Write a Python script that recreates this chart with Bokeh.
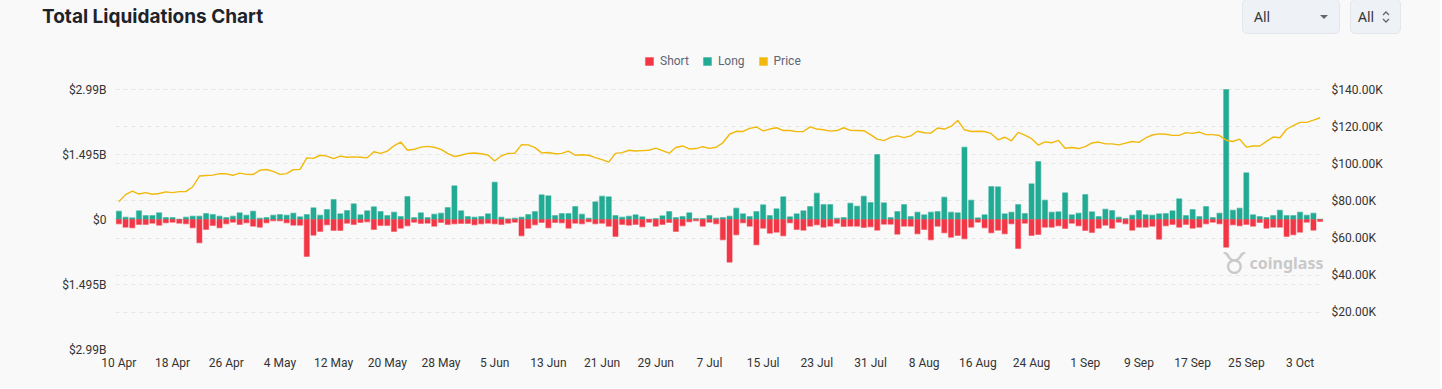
from bokeh.plotting import figure
from bokeh.models import (Range1d, LinearAxis, FixedTicker, Grid, Label, Legend,
                          LegendItem, ColumnDataSource, Div)
from bokeh.layouts import column
from bokeh.embed import file_html
from bokeh.resources import INLINE
import pandas as pd

# ---------------- data ----------------
title_text = "Total Liquidations Chart"
dates = pd.date_range("2025-04-10", "2025-10-06", freq="D")
day_labels = [f"{d.day} {d.strftime('%b')}" for d in dates]

# long liquidations, $ millions per day
long_m = [192, 54, 38, 199, 92, 92, 153, 46, 46, 8,
          54, 77, 77, 138, 115, 77, 46, 77, 153, 100,
          192, 31, 46, 100, 115, 100, 146, 61, 115, 268,
          100, 230, 460, 130, 207, 360, 107, 199, 291, 184,
          92, 169, 69, 529, 46, 153, 46, 123, 146, 276,
          774, 199, 69, 54, 69, 130, 859, 54, 15, 31,
          54, 115, 184, 567, 544, 92, 138, 138, 299, 123,
          31, 406, 537, 521, 92, 54, 77, 107, 61, 8,
          23, 84, 184, 46, 69, 153, 23, 23, 92, 31,
          46, 77, 261, 130, 69, 184, 337, 92, 245, 521,
          61, 130, 199, 299, 606, 345, 345, 31, 46, 376,
          307, 537, 391, 1495, 383, 46, 184, 345, 69, 169,
          107, 169, 184, 514, 169, 153, 1664, 445, 38, 107,
          759, 751, 130, 169, 345, 138, 820, 1334, 445, 169,
          176, 613, 107, 146, 575, 176, 69, 238, 207, 54,
          23, 100, 207, 107, 100, 130, 138, 199, 475, 92,
          230, 69, 299, 46, 146, 2990, 215, 261, 1073, 107,
          69, 46, 92, 215, 92, 92, 169, 100, 146, 8]

# short liquidations, $ millions per day
short_m = [100, 176, 192, 115, 115, 84, 130, 77, 61, 84,
           100, 192, 537, 230, 138, 192, 100, 61, 115, 77,
           153, 176, 77, 31, 31, 77, 130, 130, 851, 360,
           276, 123, 253, 253, 84, 115, 69, 54, 230, 138,
           138, 276, 199, 146, 61, 92, 84, 153, 69, 115,
           100, 92, 92, 123, 100, 84, 100, 115, 84, 61,
           376, 199, 123, 69, 192, 69, 77, 199, 84, 100,
           54, 100, 84, 153, 391, 115, 130, 115, 169, 61,
           153, 115, 69, 276, 146, 54, 31, 153, 61, 100,
           468, 981, 353, 77, 153, 583, 199, 314, 291, 376,
           77, 230, 245, 153, 123, 176, 153, 84, 161, 153,
           153, 184, 169, 245, 107, 107, 337, 153, 153, 330,
           230, 468, 153, 307, 406, 368, 445, 176, 61, 192,
           307, 245, 330, 100, 667, 84, 368, 345, 176, 176,
           146, 207, 84, 146, 253, 299, 199, 130, 199, 61,
           100, 245, 176, 176, 153, 452, 146, 115, 176, 115,
           199, 176, 100, 61, 100, 636, 123, 146, 115, 153,
           69, 199, 176, 176, 391, 353, 291, 61, 245, 46]

# BTC price, $ thousands
price_k = [79.6, 83.4, 85.3, 83.7, 84.5, 83.6, 84.0, 84.9, 84.5, 85.0,
           85.1, 87.5, 93.4, 93.7, 93.9, 94.7, 94.6, 93.8, 95.0, 94.3, 94.2,
           96.5, 96.9, 95.9, 94.3, 94.7, 96.8, 97.0, 103.2, 102.9, 104.6,
           104.1, 102.8, 104.1, 103.5, 103.7, 103.5, 103.2, 106.5, 105.6, 106.8,
           109.7, 111.7, 107.3, 107.8, 109.0, 109.4, 108.9, 107.8, 105.6, 103.9, 104.6,
           105.6, 105.8, 105.4, 104.7, 101.5, 104.3, 105.6, 105.7, 110.3, 110.2,
           108.7, 105.9, 106.1, 105.4, 105.6, 106.8, 104.6, 104.9, 104.6, 103.3,
           102.2, 100.9, 105.6, 106.0, 107.3, 106.9, 107.1, 107.3, 108.4, 107.1,
           105.7, 108.8, 109.6, 108.0, 108.2, 109.2, 108.3, 108.9, 111.3, 115.9,
           117.5, 117.4, 119.1, 119.8, 117.7, 118.7, 119.4, 117.9, 117.9, 117.3,
           117.4, 119.9, 118.7, 118.3, 117.6, 117.9, 119.4, 118.0, 117.9, 117.8, 115.7,
           113.3, 112.5, 114.2, 115.0, 114.1, 115.0, 117.5, 116.7, 116.5, 119.3,
           118.7, 120.1, 123.3, 118.3, 117.4, 117.5, 117.4, 116.2, 112.9, 114.3,
           112.4, 116.9, 115.4, 113.5, 110.1, 111.8, 111.3, 112.6, 108.4, 108.8, 108.2,
           109.2, 111.2, 111.7, 110.7, 110.7, 110.2, 111.1, 112.0, 111.5, 113.9,
           115.5, 116.1, 115.9, 115.3, 115.3, 116.8, 116.4, 117.1, 115.7, 115.7,
           115.2, 112.7, 112.0, 113.3, 109.0, 109.6, 109.6, 112.1, 114.4, 114.0,
           118.6, 120.6, 122.3, 122.3, 123.5, 124.8]

left_ticks = [-2990000000, -1495000000, 0, 1495000000, 2990000000]
left_tick_labels = ["$2.99B", "$1.495B", "$0", "$1.495B", "$2.99B"]
right_ticks = [20000, 40000, 60000, 80000, 100000, 120000, 140000]
right_tick_labels = ["$20.00K", "$40.00K", "$60.00K", "$80.00K",
                     "$100.00K", "$120.00K", "$140.00K"]
x_ticks = list(range(0, len(dates), 8))

# ---------------- style / geometry ----------------
BG = "#f9f9f9"
GREEN = "#22ab94"
RED = "#f23645"
YELLOW = "#f0b90b"
GRID = "#e6e6e6"
TXT = "#333333"

W = 1440
HEAD_H = 40          # header strip (title + selectors)
FIG_H = 348
DATA_TOP_PX = 49     # pixel row (inside figure) of the +2.99B / 140K level
FRAME_H = 309        # frame spans figure rows 0..309
L_MAX = 2990000000
R_MAX = 140000
span_px = FRAME_H - DATA_TOP_PX
left_top = L_MAX + DATA_TOP_PX * (2 * L_MAX) / span_px
right_top = R_MAX + DATA_TOP_PX * R_MAX / span_px

n = len(dates)
src = ColumnDataSource(dict(
    x=list(range(n)),
    long=[v * 1e6 for v in long_m],
    short=[-v * 1e6 for v in short_m],
    price=[v * 1000 for v in price_k],
))

p = figure(width=W, height=FIG_H,
           x_range=Range1d(-0.5, n - 0.5),
           y_range=Range1d(-L_MAX, left_top),
           output_backend="svg", toolbar_location=None,
           min_border_left=115, min_border_right=W - 1323,
           min_border_top=0, min_border_bottom=FIG_H - FRAME_H,
           background_fill_color=BG, border_fill_color=BG,
           outline_line_color=None)
p.extra_y_ranges = {"price": Range1d(0, right_top)}

# grids
p.xgrid.visible = False
p.ygrid.ticker = FixedTicker(ticks=left_ticks)
p.ygrid.grid_line_color = GRID
p.ygrid.grid_line_dash = "4 4"
g2 = Grid(dimension=1, ticker=FixedTicker(ticks=[0] + right_ticks),
          y_range_name="price", grid_line_color=GRID, grid_line_dash="4 4")
p.add_layout(g2)

# bars and price line
r_long = p.vbar(x="x", top="long", bottom=0, width=0.76, source=src,
                fill_color=GREEN, line_color=GREEN, line_alpha=0.4, line_width=1.2)
r_short = p.vbar(x="x", top=0, bottom="short", width=0.76, source=src,
                 fill_color=RED, line_color=RED, line_alpha=0.4, line_width=1.2)
p.line(x="x", y="price", source=src, y_range_name="price",
       line_color=YELLOW, line_width=1.4)
# legend proxy for the price series (a zero-height bar outside the visible range)
proxy = ColumnDataSource(dict(x=[-10], top=[0]))
r_price_leg = p.vbar(x="x", top="top", bottom=0, width=0.7, source=proxy,
                     fill_color=YELLOW, line_color=YELLOW, line_alpha=0.4)

# axes
def style_axis(ax, standoff):
    ax.axis_line_color = None
    ax.major_tick_line_color = None
    ax.minor_tick_line_color = None
    ax.major_tick_in = 0
    ax.major_tick_out = 0
    ax.major_label_standoff = standoff
    ax.major_label_text_font = "Roboto"
    ax.major_label_text_font_size = "12px"
    ax.major_label_text_color = TXT

p.yaxis.ticker = FixedTicker(ticks=left_ticks)
p.yaxis.major_label_overrides = dict(zip(left_ticks, left_tick_labels))
style_axis(p.yaxis[0], 9)

ax_r = LinearAxis(y_range_name="price", ticker=FixedTicker(ticks=right_ticks),
                  major_label_overrides=dict(zip(right_ticks, right_tick_labels)))
style_axis(ax_r, 8)
p.add_layout(ax_r, "right")

p.xaxis.ticker = FixedTicker(ticks=x_ticks)
p.xaxis.major_label_overrides = {i: day_labels[i] for i in x_ticks}
style_axis(p.xaxis[0], 6)

# legend (inside the frame, top area)
legend = Legend(items=[LegendItem(label="Short", renderers=[r_short]),
                       LegendItem(label="Long", renderers=[r_long]),
                       LegendItem(label="Price", renderers=[r_price_leg])],
                orientation="horizontal", location=(529, FRAME_H - 28),
                glyph_width=10, glyph_height=10, label_height=12,
                label_standoff=6, spacing=13, padding=0, margin=0,
                border_line_color=None, background_fill_alpha=0,
                label_text_font="Roboto", label_text_font_size="12px",
                label_text_color="#5e6673")
p.add_layout(legend)

# watermark
p.add_layout(Label(x=1119, y=86, x_units="screen", y_units="screen",
                   text="\u2649", text_font="DejaVu Sans", text_font_size="30px",
                   text_font_style="bold",
                   text_color="#c9c9c9", text_baseline="middle", text_align="center"))
p.add_layout(Label(x=1134, y=87, x_units="screen", y_units="screen",
                   text="coinglass", text_font="Noto Sans", text_font_style="bold",
                   text_font_size="16px", text_color="#c9c9c9",
                   text_baseline="middle"))

# header: title + selectors
box = ("position:absolute;top:-1px;height:35px;box-sizing:border-box;"
       "background:#eef1f5;border:1px solid #e2e7ed;border-radius:5px;")
txt = ("position:absolute;top:0;line-height:33px;font-family:'Noto Sans';"
       "font-size:14px;color:#333;")
header_html = f"""
<div style="position:relative;width:{W}px;height:{HEAD_H + 1}px;background:{BG};overflow:hidden;">
  <div style="position:absolute;left:42px;top:3px;font-family:Inter;font-weight:700;
       font-size:19px;line-height:28px;color:#1e2329;white-space:nowrap;">{title_text}</div>
  <div style="{box}left:1242px;width:98px;">
    <span style="{txt}left:11px;">All</span>
    <div style="position:absolute;left:77px;top:15px;width:0;height:0;
         border-left:4px solid transparent;border-right:4px solid transparent;
         border-top:4px solid #666;"></div>
  </div>
  <div style="{box}left:1350px;width:51px;">
    <span style="{txt}left:7px;">All</span>
    <svg style="position:absolute;left:30px;top:9px;" width="10" height="16" viewBox="0 0 10 16">
      <path d="M2 6 L5 3 L8 6" fill="none" stroke="#666" stroke-width="1.3"/>
      <path d="M2 10 L5 13 L8 10" fill="none" stroke="#666" stroke-width="1.3"/>
    </svg>
  </div>
</div>
"""
header = Div(text=header_html, width=W, height=HEAD_H, margin=0,
             styles={"background-color": BG})

layout = column(header, p, spacing=0, styles={"background-color": BG})
open("out.html", "w").write(file_html(layout, INLINE))
